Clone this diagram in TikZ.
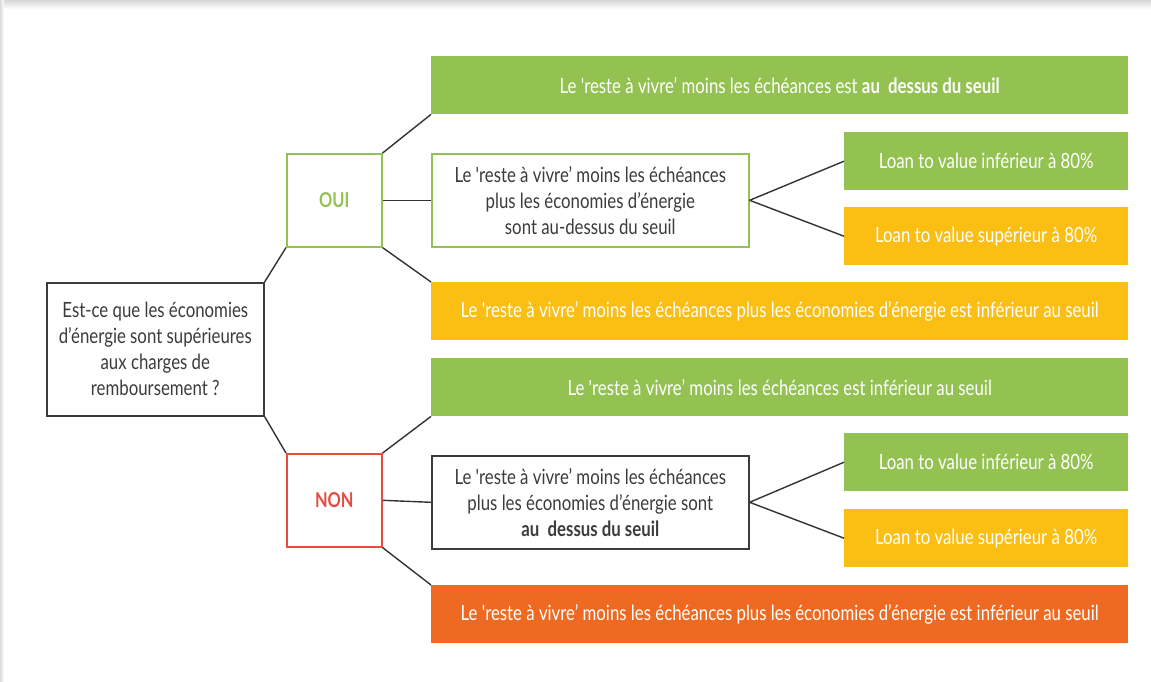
\documentclass[tikz,border=0pt]{standalone}
\usepackage{fontspec}
\setmainfont{Lato}[FakeStretch=0.80, Ligatures=TeXOff]
\definecolor{leaf}{HTML}{93C252}
\definecolor{sun}{HTML}{FBBE12}
\definecolor{rust}{HTML}{EE6A22}
\definecolor{alert}{HTML}{E84C3F}
\definecolor{ink}{HTML}{3C3C3C}
\definecolor{wire}{HTML}{333333}
\begin{document}
\begin{tikzpicture}[x=1pt,y=-1pt,
  base/.style={rectangle, inner sep=0pt, anchor=north west, align=center,
    font=\fontsize{21}{26}\selectfont},
  bar/.style={base, minimum width=697pt, minimum height=58pt, text=white},
  ltv/.style={base, minimum width=284pt, minimum height=58pt, text=white},
  framed/.style={base, draw=#1, line width=1.6pt, text=ink},
  choice/.style={base, minimum width=95pt, minimum height=93pt, draw=#1, line width=1.6pt,
    text=#1, font=\fontsize{20.5}{26}\selectfont\bfseries},
  link/.style={draw=wire, line width=1.4pt}]
\useasboundingbox (0,0) rectangle (1151,681);
% card with a soft shadow along the top and left edges
\fill[white] (0,0) rectangle (1151,681);
\shade[top color=black!16, bottom color=white] (0,0) rectangle (1151,9);
\shade[left color=black!14, right color=white] (0,0) rectangle (4,681);

% question
\node[framed=ink, minimum width=217pt, minimum height=133pt] (q) at (46,282)
  {Est-ce que les économies\\d’énergie sont supérieures\\aux charges de\\remboursement ?};

% yes branch
\node[choice=leaf] (oui) at (286,153) {OUI};
\node[bar, fill=leaf] (ouiTop) at (431,56)
  {Le 'reste à vivre’ moins les échéances est \textbf{au\ \ dessus du seuil}};
\node[framed=leaf, minimum width=317pt, minimum height=93pt] (ouiMid) at (431,153)
  {Le 'reste à vivre’ moins les échéances\\plus les économies d’énergie\\sont au-dessus du seuil};
\node[bar, fill=sun] (ouiLow) at (431,282)
  {Le 'reste à vivre’ moins les échéances plus les économies d’énergie est inférieur au seuil};
\node[ltv, fill=leaf] (ouiLtvA) at (844,132) {Loan to value inférieur à 80\%};
\node[ltv, fill=sun] (ouiLtvB) at (844,207) {Loan to value supérieur à 80\%};

% no branch
\node[choice=alert] (non) at (286,453) {NON};
\node[bar, fill=leaf] (nonTop) at (431,358)
  {Le 'reste à vivre’ moins les échéances est inférieur au seuil};
\node[framed=ink, minimum width=317pt, minimum height=93pt] (nonMid) at (431,455)
  {Le 'reste à vivre’ moins les échéances\\plus les économies d’énergie sont\\\textbf{au\ \ dessus du seuil}};
\node[bar, fill=rust] (nonLow) at (431,585)
  {Le 'reste à vivre’ moins les échéances plus les économies d’énergie est inférieur au seuil};
\node[ltv, fill=leaf] (nonLtvA) at (844,433) {Loan to value inférieur à 80\%};
\node[ltv, fill=sun] (nonLtvB) at (844,509) {Loan to value supérieur à 80\%};

% connectors
\path[link] (q.north east) -- (oui.south west);
\path[link] (q.south east) -- (non.north west);
\path[link] (oui.north east) -- (ouiTop.south west);
\path[link] (oui.east) -- (ouiMid.west);
\path[link] (oui.south east) -- (ouiLow.north west);
\path[link] (ouiMid.east) -- (ouiLtvA.west);
\path[link] (ouiMid.east) -- (ouiLtvB.west);
\path[link] (non.north east) -- (nonTop.south west);
\path[link] (non.east) -- (nonMid.west);
\path[link] (non.south east) -- (nonLow.north west);
\path[link] (nonMid.east) -- (nonLtvA.west);
\path[link] (nonMid.east) -- (nonLtvB.west);
\end{tikzpicture}
\end{document}
